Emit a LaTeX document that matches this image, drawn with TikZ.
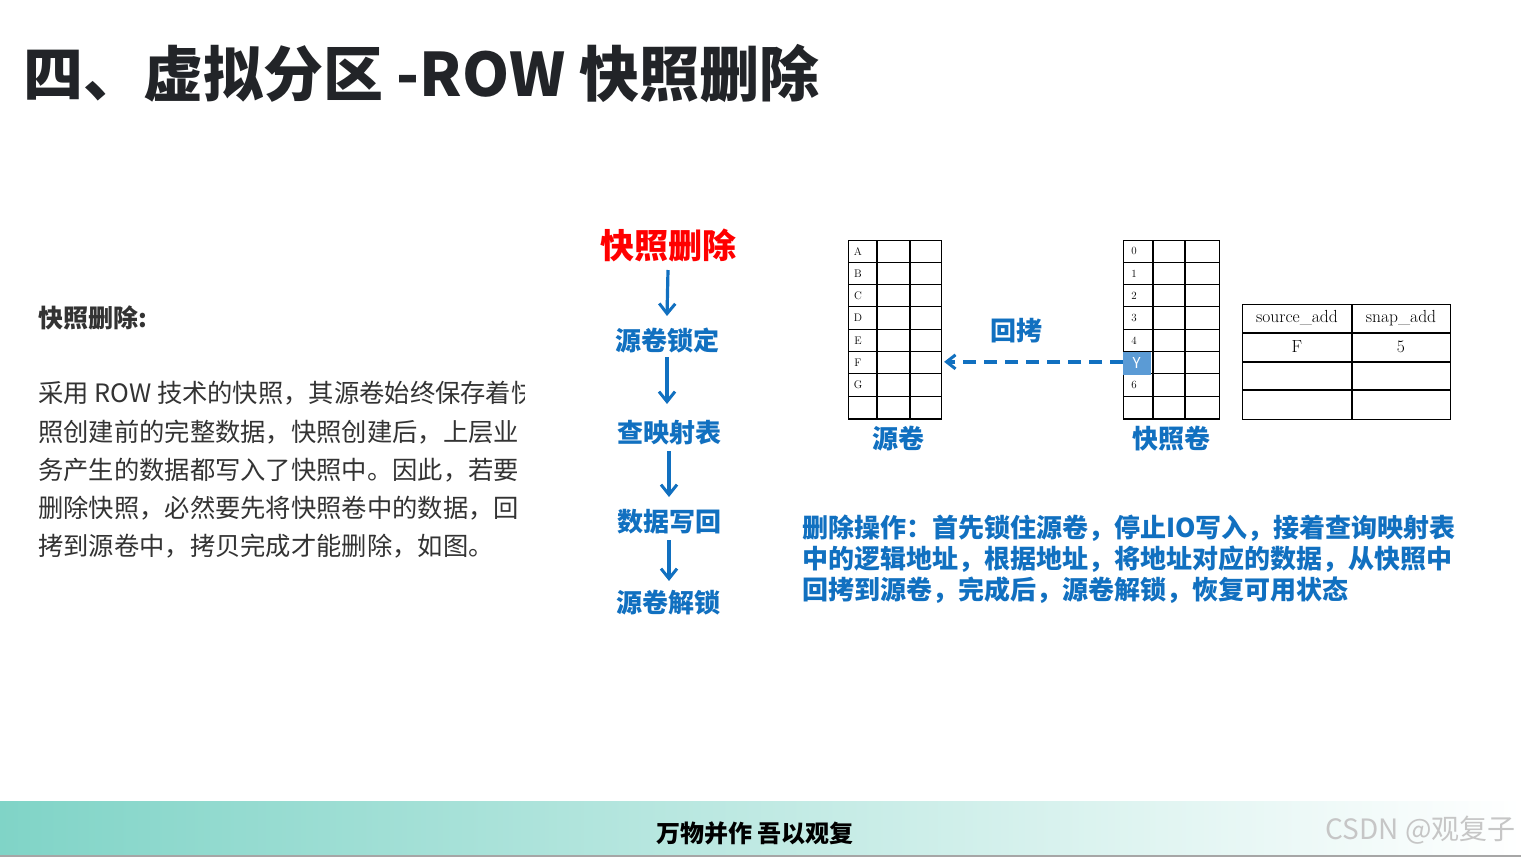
\documentclass[tikz,border=0pt]{standalone}
\usepackage{fontspec}
\newfontfamily\cjk{Noto Sans CJK SC}
\usetikzlibrary{arrows.meta}
\definecolor{fblue}{HTML}{1170C0}
\definecolor{titlec}{HTML}{222428}
\definecolor{bodyc}{HTML}{333333}
\definecolor{barL}{HTML}{80D4C7}
\definecolor{cellblue}{HTML}{5B9BD5}
\tikzset{
  bluebold/.style={font=\cjk\bfseries\fontsize{26}{28}\selectfont, text=fblue, inner sep=0pt},
  flowarrow/.style={draw=fblue, line width=3.2pt, -{Straight Barb[length=10pt,width=16pt,line width=3pt]}},
  dasharrow/.style={draw=fblue, line width=3.4pt, dash pattern=on 13pt off 8pt, -{Straight Barb[length=9pt,width=14pt,line width=3pt]}},
  tline/.style={draw=black, line width=1.1pt},
  celltxt/.style={font=\rmfamily\fontsize{11}{12}\selectfont, inner sep=0pt},
  maptxt/.style={font=\rmfamily\fontsize{17.5}{19}\selectfont, inner sep=0pt},
  bodyline/.style={font=\cjk\fontsize{25.3}{27}\selectfont, text=bodyc, anchor=west, inner sep=0pt},
}
\begin{document}
\begin{tikzpicture}[x=1pt,y=-1pt]
\useasboundingbox (0,0) rectangle (1521,857);
\fill[white] (0,0) rectangle (1521,857);

% title
\node[anchor=west, font=\cjk\bfseries\fontsize{60}{62}\selectfont, text=titlec, inner sep=0pt] (title) at (23,74) {四、虚拟分区 -ROW 快照删除};

% left text
\node[anchor=west, font=\cjk\bfseries\fontsize{25}{27}\selectfont, text=bodyc, inner sep=0pt] (lhead) at (38,318) {快照删除:};
\begin{scope}
\clip (0,360) rectangle (524,575);
\node[bodyline] (l1) at (38,393) {采用 ROW 技术的快照，其源卷始终保存着快};
\node[bodyline] (l2) at (38,432) {照创建前的完整数据，快照创建后，上层业};
\node[bodyline] (l3) at (38,470) {务产生的数据都写入了快照中。因此，若要};
\node[bodyline] (l4) at (38,508) {删除快照，必然要先将快照卷中的数据，回};
\node[bodyline] (l5) at (38,546) {拷到源卷中，拷贝完成才能删除，如图。};
\end{scope}

% flow
\node[font=\cjk\bfseries\fontsize{34}{36}\selectfont, text=red, inner sep=0pt] (f0) at (668,246) {快照删除};
\node[bluebold] (f1) at (667,340) {源卷锁定};
\node[bluebold] (f2) at (669,433) {查映射表};
\node[bluebold] (f3) at (669,522) {数据写回};
\node[bluebold] (f4) at (668,603) {源卷解锁};
\coordinate (a0) at (667,270);
\coordinate (b0) at (667,316);
\coordinate (a1) at (667,357);
\coordinate (b1) at (667,404);
\coordinate (a2) at (667,451);
\coordinate (b2) at (667,497);
\coordinate (a3) at (667,540);
\coordinate (b3) at (667,581);
\draw[flowarrow] (f0.south |- a0) -- (f1.north |- b0);
\draw[flowarrow] (f1.south |- a1) -- (f1.south |- b1);
\draw[flowarrow] (f2.south |- a2) -- (f2.south |- b2);
\draw[flowarrow] (f3.south |- a3) -- (f3.south |- b3);

% source volume table
\node[tline, minimum width=93pt, minimum height=178.4pt, inner sep=0pt, anchor=north west] (src) at (848,240) {};
\foreach \k in {1,...,7} \draw[tline] (848,240+22.3*\k) -- (941,240+22.3*\k);
\foreach \xx in {877,910} \draw[tline] (\xx,240) -- (\xx,418.4);
\foreach \lab [count=\i from 0] in {A,B,C,D,E,F,G}
  \node[celltxt] at (858,251.2+22.3*\i) {\lab};

% snapshot volume table
\fill[cellblue] (1123,351.5) rectangle (1150,373.8);
\node[tline, minimum width=96pt, minimum height=178.4pt, inner sep=0pt, anchor=north west] (snap) at (1123,240) {};
\foreach \k in {1,...,7} \draw[tline] (1123,240+22.3*\k) -- (1219,240+22.3*\k);
\foreach \xx in {1153,1185} \draw[tline] (\xx,240) -- (\xx,418.4);
\foreach \lab [count=\i from 0] in {0,1,2,3,4}
  \node[celltxt] at (1134,251.2+22.3*\i) {\lab};
\node[celltxt] at (1134,385.3) {6};
\node[draw=cellblue, fill=cellblue, minimum width=27pt, minimum height=22.3pt, inner sep=0pt, anchor=north west, font=\cjk\fontsize{15}{16}\selectfont, text=white] (ycell) at (1123,351.5) {Y};

% copy-back arrow
\draw[dasharrow, shorten >=2pt] ([yshift=1pt]ycell.west) -- ([yshift=1pt]src.east |- ycell.west);
\node[bluebold] (huikao) at (1016,331) {回拷};

\node[bluebold] (srclab) at (898,439) {源卷};
\node[bluebold] (snaplab) at (1171,439) {快照卷};

% mapping table
\node[tline, minimum width=208pt, minimum height=115pt, inner sep=0pt, anchor=north west] (map) at (1242,304) {};
\foreach \yy in {333,362,390} \draw[tline] (1242,\yy) -- (1450,\yy);
\draw[tline] (1352,304) -- (1352,419);
\node[maptxt] (h1) at (1297,318) {source\_add};
\node[maptxt] (h2) at (1401,318) {snap\_add};
\node[maptxt] (v1) at (1297,347) {F};
\node[maptxt] (v2) at (1401,347) {5};

% description
\node[bluebold, anchor=west] (d1) at (802,528) {删除操作：首先锁住源卷，停止IO写入，接着查询映射表};
\node[bluebold, anchor=west] (d2) at (802,559) {中的逻辑地址，根据地址，将地址对应的数据，从快照中};
\node[bluebold, anchor=west] (d3) at (802,590) {回拷到源卷，完成后，源卷解锁，恢复可用状态};

% bottom bar
\shade[left color=barL, right color=white] (0,801) rectangle (1521,855);
\fill[gray!70] (0,855) rectangle (1521,857);
\node[font=\cjk\bfseries\fontsize{24}{26}\selectfont, text=black, inner sep=0pt] (motto) at (755,833) {万物并作 吾以观复};
\node[anchor=east, font=\cjk\fontsize{28}{30}\selectfont, text=gray!45, inner sep=0pt] (csdn) at (1516,830) {CSDN @观复子};
\end{tikzpicture}
\end{document}
